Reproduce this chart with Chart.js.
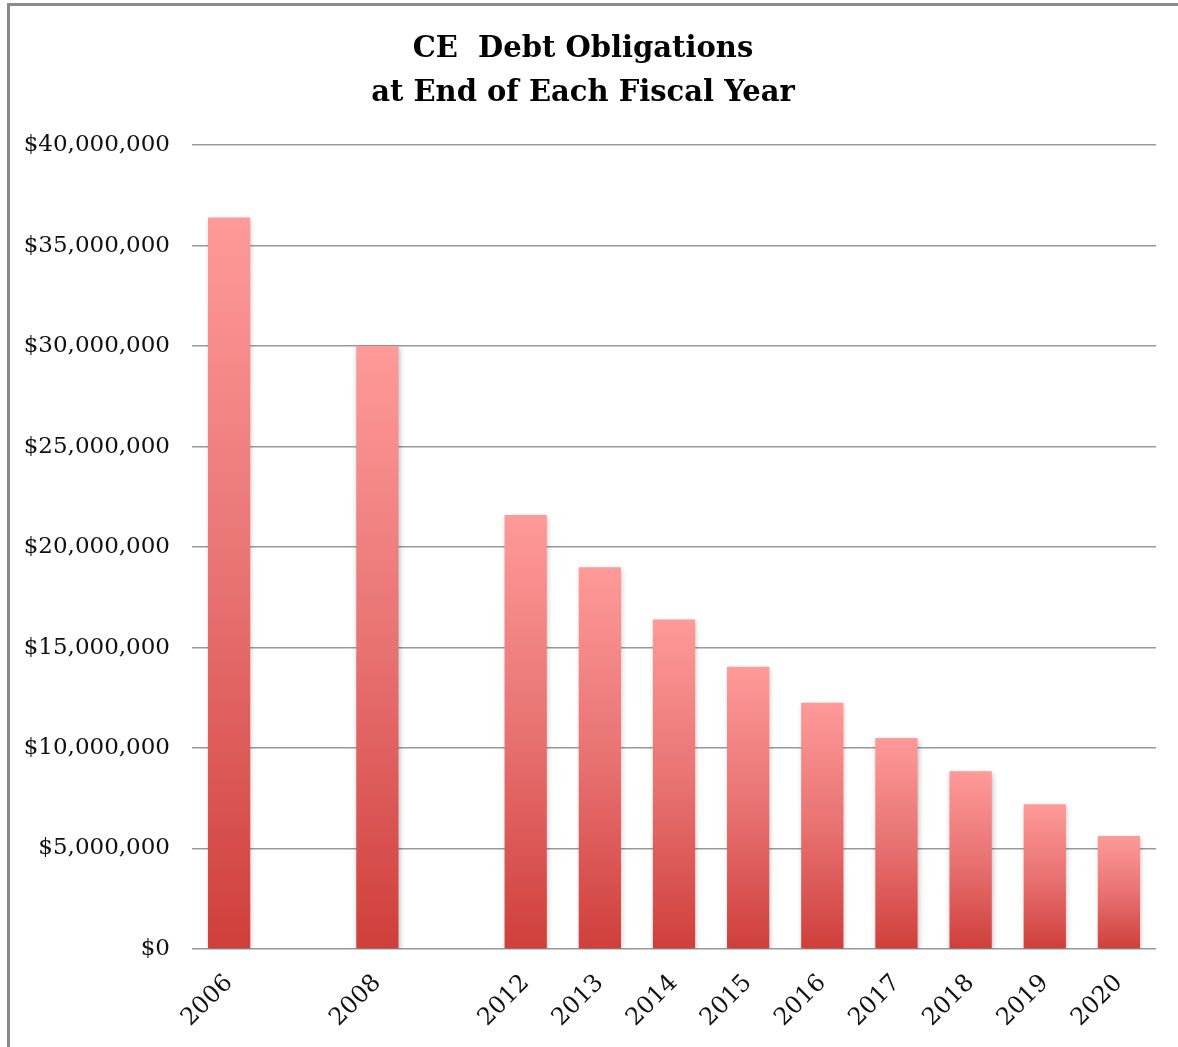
<!DOCTYPE html>
<html>
<head>
<meta charset="utf-8">
<script src="https://cdn.jsdelivr.net/npm/chart.js@4"></script>
<style>
  html, body { margin: 0; padding: 0; background: #fff; }
  #wrap { position: relative; width: 1178px; height: 1047px; }
  #frame { position: absolute; left: 7px; top: 3px; right: 0; bottom: 0;
           border-left: 3px solid #8a8a8a; border-top: 3px solid #8a8a8a; }
  canvas { position: absolute; left: 0; top: 0; }
</style>
</head>
<body>
<div id="wrap">
  <div id="frame"></div>
  <canvas id="debt-chart" width="1178" height="1047"></canvas>
</div>
<script>
// Fiscal years on the x axis (blank slots are the gaps in the original)
const years = ['2006', '', '2008', '', '2012', '2013', '2014', '2015', '2016', '2017', '2018', '2019', '2020'];
// Debt outstanding at year end, in dollars
const debt = [36400000, null, 30000000, null, 21600000, 19000000, 16400000, 14050000, 12250000, 10500000, 8850000, 7200000, 5620000];
const yTicks = [0, 5000000, 10000000, 15000000, 20000000, 25000000, 30000000, 35000000, 40000000];

const ctx = document.getElementById('debt-chart').getContext('2d');

// each bar fades from light pink at the top to red at the base
function barGradient(c) {
    const chart = c.chart;
    if (c.raw == null) return 'rgba(0,0,0,0)';
    if (!chart.chartArea) return '#e06a68';
    const y = chart.scales.y;
    const top = y.getPixelForValue(c.raw);
    const bottom = y.getPixelForValue(0);
    const g = chart.ctx.createLinearGradient(0, top, 0, bottom);
    g.addColorStop(0, '#fe9a99');
    g.addColorStop(0.5, '#e87272');
    g.addColorStop(1, '#cf3f3b');
    return g;
}

// soft shadow under the bars
const barShadow = {
    id: 'barShadow',
    beforeDatasetsDraw(chart) {
        chart.ctx.save();
        chart.ctx.shadowColor = 'rgba(0,0,0,0.25)';
        chart.ctx.shadowBlur = 5;
        chart.ctx.shadowOffsetX = 1;
        chart.ctx.shadowOffsetY = 2;
    },
    afterDatasetsDraw(chart) {
        chart.ctx.restore();
    }
};

const chart = new Chart(ctx, {
    type: 'bar',
    data: {
        labels: years,
        datasets: [{
            label: 'Debt',
            data: debt,
            backgroundColor: barGradient,
            borderWidth: 0,
            barPercentage: 0.57,
            categoryPercentage: 1
        }]
    },
    options: {
        responsive: false,
        animation: false,
        layout: { padding: { left: 10, right: 22, top: 0, bottom: 0 } },
        plugins: {
            legend: { display: false },
            tooltip: { enabled: false },
            title: {
                display: true,
                text: ['CE  Debt Obligations', 'at End of Each Fiscal Year'],
                color: '#000',
                font: { family: 'DejaVu Serif', size: 29, weight: 'bold', lineHeight: 1.52 },
                padding: { top: 27, bottom: 30 }
            }
        },
        scales: {
            x: {
                grid: { display: false, drawTicks: false },
                border: { display: false },
                ticks: {
                    color: '#111',
                    font: { family: 'DejaVu Serif', size: 24 },
                    minRotation: 45,
                    maxRotation: 45,
                    padding: 20,
                    autoSkip: false
                },
                afterFit(scale) { scale.height = 98; }
            },
            y: {
                min: 0,
                max: 40000000,
                afterBuildTicks(scale) { scale.ticks = yTicks.map(v => ({ value: v })); },
                grid: { color: '#999', lineWidth: 1.5, drawTicks: false },
                border: { display: false },
                ticks: {
                    color: '#111',
                    font: { family: 'DejaVu Serif', size: 23 },
                    padding: 22,
                    callback: v => '$' + v.toLocaleString('en-US')
                },
                afterFit(scale) { scale.width = 182; }
            }
        }
    },
    plugins: [barShadow]
});
</script>
</body>
</html>
